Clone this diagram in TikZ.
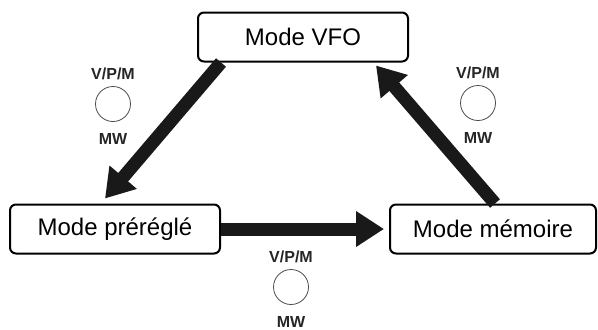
\documentclass[tikz,border=0pt]{standalone}
\usepackage{fontspec}
\setmainfont{Liberation Sans}
\usepackage{tikz}
\usetikzlibrary{arrows.meta}
\usetikzlibrary{positioning}
\tikzstyle{block} = [draw, line width=1pt, rounded corners=3pt, rectangle,
    minimum height=24.5pt, minimum width=105pt, font=\fontsize{12}{14}\selectfont]
\tikzstyle{lbl} = [font=\fontsize{8}{9}\selectfont\bfseries, text=black!85, inner sep=1pt]
\tikzstyle{knob} = [draw, circle, thin, black!70, minimum size=17.5pt, inner sep=0pt,
    label={[lbl,label distance=2pt]above:V/P/M},
    label={[lbl,label distance=4.5pt]below:MW}]
\tikzstyle{trans} = [line width=6.5pt, black!90,
    -{Triangle[length=14pt,width=17pt]}, shorten >=0pt]

\begin{document}
\begin{tikzpicture}[x=0.5pt, y=-0.5pt]
    \useasboundingbox (0,0) rectangle (598,329);
    % the three modes
    \node [block] (vfo) at (303,37) {Mode VFO};
    \node [block] (pre) at (115,229) {Mode préréglé};
    \node [block, minimum width=103pt] (mem) at (493,229) {Mode mémoire};
    % switching knobs next to each transition
    \node [knob] (knobl) at (113,104) {};
    \node [knob] (knobr) at (478,103) {};
    \node [knob] (knobb) at (291,287) {};
    % transitions
    \draw [trans] ([xshift=12pt]vfo.south west) -- ([xshift=-5pt,yshift=2.5pt]pre.north);
    \draw [trans] (pre.east) -- ([xshift=-2.5pt]mem.west);
    \draw [trans] ([xshift=1pt]mem.north) -- ([xshift=-16.5pt,yshift=-1.5pt]vfo.south east);
\end{tikzpicture}
\end{document}
